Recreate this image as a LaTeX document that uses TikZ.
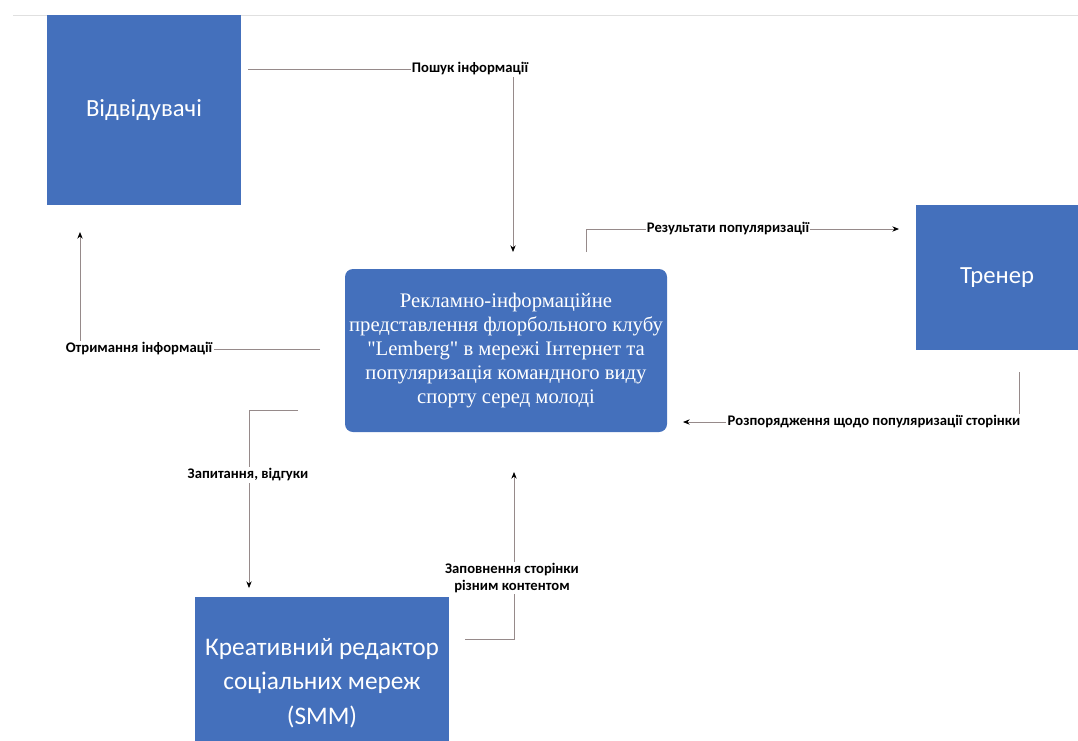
\documentclass[tikz,border=0pt]{standalone}
\usepackage{fontspec}
\setmainfont{Liberation Serif}
\newfontfamily\boxfont{Carlito}
\usetikzlibrary{arrows,arrows.meta}

\definecolor{boxblue}{RGB}{68,112,188}
\definecolor{flowgray}{RGB}{150,138,138}

\begin{document}
\begin{tikzpicture}[x=0.75pt,y=-0.75pt]
			\tikzstyle{actor} = [
				rectangle, fill = boxblue, text = white,
				inner sep = 0pt, align = center,
				font = \boxfont\fontsize{18.5}{26}\selectfont
			]
			\tikzstyle{system} = [
				rectangle, rounded corners = 6pt, fill = boxblue, text = white,
				inner sep = 0pt, align = center,
				font = \fontsize{15.5}{18}\selectfont
			]
			\tikzstyle{tip}=[-{Stealth[black,length=5pt,width=4pt]},draw=flowgray,line width=0.6pt]
			\tikzstyle{label}=[fill=white,inner sep=1pt,font=\boxfont\bfseries\fontsize{11}{13}\selectfont,align=center]
			\useasboundingbox (0,0) rectangle (1078,740);
			\draw[black!12] (13,15) -- (1078,15);
			% boxes
			\node[actor, minimum width = 145.5pt, minimum height = 142.5pt] (visitors) at (144,110) {Відвідувачі};
			\node[system, minimum width = 241.5pt, minimum height = 122.25pt] (club) at (506,350.5)
				{Рекламно-інформаційне\\представлення флорбольного клубу\\\textquotedbl Lemberg\textquotedbl{} в мережі Інтернет та\\популяризація командного виду\\спорту серед молоді};
			\node[actor, minimum width = 121.5pt, minimum height = 108.75pt] (coach) at (997,277.5) {Тренер};
			\node[actor, minimum width = 190.5pt, minimum height = 129pt,
				font = \boxfont\fontsize{19}{26}\selectfont] (smm) at (322,683)
				{Креативний редактор\\соціальних мереж\\(SMM)};
			% ends of the connectors
			\coordinate (search-a) at (248,69);
			\coordinate (search-b) at (513,252);
			\coordinate (result-a) at (586,252);
			\coordinate (result-b) at (899,229);
			\coordinate (order-a) at (1019,372);
			\coordinate (order-b) at (683,422);
			\coordinate (get-a) at (320,349);
			\coordinate (get-b) at (80,232);
			\coordinate (ask-a) at (298,410);
			\coordinate (ask-b) at (249,588);
			\coordinate (fill-a) at (465,639);
			\coordinate (fill-b) at (514,472);
			\draw (search-a) -| (search-b) [tip];
			\draw (result-a) |- (result-b) [tip];
			\draw (order-a) |- (order-b) [tip];
			\draw (get-a) -| (get-b) [tip];
			\draw (ask-a) -| (ask-b) [tip];
			\draw (fill-a) -| (fill-b) [tip];
			% labels
			\node[label] (search) at (470,69) {Пошук інформації};
			\node[label] (result) at (728,229) {Результати популяризації};
			\node[label] (order) at (874,422) {Розпорядження щодо популяризації сторінки};
			\node[label] (get) at (139,349) {Отримання інформації};
			\node[label] (ask) at (248,475) {Запитання, відгуки};
			\node[label] (fill) at (512,578) {Заповнення сторінки\\різним контентом};
		\end{tikzpicture}
\end{document}
